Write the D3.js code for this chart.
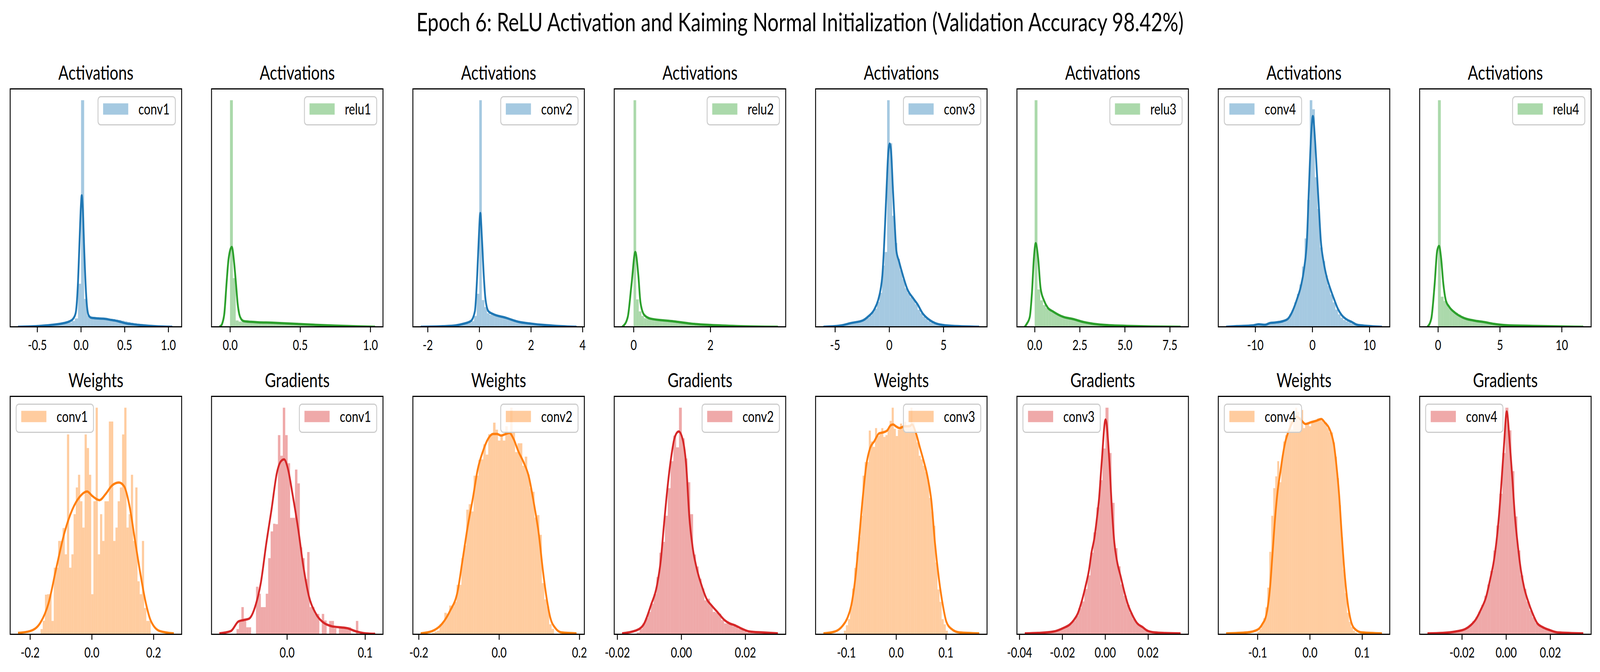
<!DOCTYPE html>
<html>
<head>
<meta charset="utf-8">
<script src="https://cdn.jsdelivr.net/npm/d3@7"></script>
<style>
  html, body { margin: 0; padding: 0; background: #fff; overflow: hidden; }
  svg { display: block; }
  text { font-family: Lato, "Open Sans", sans-serif; fill: #000; }
</style>
</head>
<body>
<script>
// ---- data (heights relative to tallest bar = 100) ----

var figTitle = "Epoch 6: ReLU Activation and Kaiming Normal Initialization (Validation Accuracy 98.42%)";

var panelTitles = ["Activations", "Activations", "Activations", "Activations",
                   "Activations", "Activations", "Activations", "Activations",
                   "Weights", "Gradients", "Weights", "Gradients",
                   "Weights", "Gradients", "Weights", "Gradients"];
var panelLabels = ["conv1", "relu1", "conv2", "relu2", "conv3", "relu3", "conv4", "relu4",
                   "conv1", "conv1", "conv2", "conv2", "conv3", "conv3", "conv4", "conv4"];
var legendSides = ["right", "right", "right", "right", "right", "right", "left", "right",
                   "left", "right", "right", "right", "right", "left", "left", "left"];

var binStarts = [-0.706, 0, -1.8, 0, -5.36, 0, -13.05, 0,
                 -0.1659, -0.0646, -0.1665, -0.0139, -0.105, -0.0365, -0.1003, -0.0343];
var binWidths = [0.0354, 0.0205, 0.1, 0.068, 0.235, 0.155, 0.45, 0.23,
                 0.00714, 0.00312, 0.00607, 0.00088, 0.00418, 0.00141, 0.00381, 0.00136];

var tickValues = [[-0.5, 0, 0.5, 1], [0, 0.5, 1], [-2, 0, 2, 4], [0, 2],
                  [-5, 0, 5], [0, 2.5, 5, 7.5], [-10, 0, 10], [0, 5, 10],
                  [-0.2, 0, 0.2], [0, 0.1], [-0.2, 0, 0.2], [-0.02, 0, 0.02],
                  [-0.1, 0, 0.1], [-0.04, -0.02, 0, 0.02], [-0.1, 0, 0.1], [-0.02, 0, 0.02]];
var tickDecimals = [1, 1, 0, 0, 0, 1, 0, 0, 1, 1, 1, 2, 1, 2, 1, 2];

var conv1ActHist = [0.1,0.1,0.1,0.2,0.2,0.2,0.3,0.3,0.4,0.5,0.6,0.7,0.9,1.1,1.3,1.6,2.0,2.6,3.7,19,
  100,12.3,4.9,4.2,4.0,3.9,3.8,3.7,3.6,3.5,3.4,3.2,3.0,2.7,2.4,2.1,1.8,1.6,1.4,1.2,1.0,0.9,0.8,0.7,0.6,0.5,0.4,0.3,0.3,0.2];
var conv1ActKde = [[-0.72,0],[-0.6,0.15],[-0.5,0.3],[-0.4,0.6],[-0.3,1.0],[-0.2,1.6],[-0.13,2.4],[-0.09,3.5],
  [-0.06,6],[-0.035,18],[-0.015,38],[0,53],[0.01,58],[0.022,52],[0.04,32],[0.055,18],[0.07,9],[0.09,5],
  [0.12,4],[0.2,3.7],[0.28,3.5],[0.35,3.0],[0.4,2.7],[0.45,2.2],[0.52,1.5],[0.6,1.1],[0.7,0.7],[0.85,0.25],[1.047,0]];

var relu1ActHist = [100,21.5,2.8,2.3,2.2,2.1,2.1,2.0,2.0,2.0,2.0,1.9,1.9,1.9,1.8,1.8,1.8,1.7,1.7,
  1.6,1.6,1.5,1.4,1.3,1.2,1.1,1.0,0.95,0.9,0.85,0.8,0.75,0.7,0.65,0.6,0.55,0.5,0.45,0.4,0.35,0.32,0.3,0.27,
  0.25,0.22,0.2,0.17,0.15,0.12,0.1];
var relu1ActKde = [[-0.076,0],[-0.06,0.8],[-0.053,1.9],[-0.04,6],[-0.024,19.6],[-0.01,30],[0.013,35.2],
  [0.03,28],[0.042,19.6],[0.055,10],[0.066,5.6],[0.08,3.4],[0.099,2.5],[0.15,2.2],[0.2,2.0],[0.3,1.8],
  [0.4,1.5],[0.5,1.2],[0.6,0.9],[0.75,0.5],[0.9,0.2],[1.035,0]];

var conv2ActHist = [0.2,0.2,0.2,0.3,0.3,0.3,0.4,0.4,0.5,0.6,0.7,0.9,1.1,1.4,1.8,2.5,4.8,14.6,
  100,11.8,8.7,6.0,5.3,5.1,4.9,4.7,4.5,4.3,4.0,3.8,3.5,3.2,2.9,2.6,2.3,2.1,1.9,1.7,1.5,1.3,1.1,1.0,
  0.9,0.8,0.7,0.6,0.5,0.4,0.3,0.3];
var conv2ActKde = [[-2.27,0],[-1.41,0.25],[-0.92,0.6],[-0.63,1.3],[-0.33,2.5],[-0.17,6.8],[-0.08,22.6],
  [-0.02,38.4],[0.04,50.2],[0.106,38.4],[0.175,22.6],[0.24,12.3],[0.36,6.8],[0.54,5.6],[1.03,4.0],
  [1.52,2.2],[2.01,1.4],[2.5,0.8],[2.99,0.4],[3.77,0]];

var relu2ActHist = [100,12.1,6.8,4.8,3.8,3.5,3.4,3.3,3.2,3.1,3.0,2.9,2.8,2.7,2.6,2.5,2.4,2.3,2.2,2.1,
  2.0,1.9,1.7,1.6,1.5,1.4,1.3,1.2,1.1,0.95,0.85,0.75,0.7,0.6,0.55,0.5,0.45,0.4,0.35,0.3,
  0.28,0.25,0.22,0.2,0.18,0.15,0.12,0.1,0.08,0.06];
var relu2ActKde = [[-0.3,0],[-0.26,0.5],[-0.15,4.4],[-0.053,18.7],[0.046,33],[0.125,22.6],[0.18,10.8],
  [0.28,5.2],[0.44,3.6],[1.0,2.5],[1.5,1.4],[2.0,0.8],[2.7,0.3],[3.76,0]];

var conv3ActHist = [0.2,0.3,0.4,0.5,0.7,0.9,1.1,1.4,1.7,2.0,2.2,2.5,2.9,3.3,4.0,5.0,6.5,8.0,11,15,27,33,
  100,81,49,37,30,25,21,17,15,13,12,10,7.5,6,4.5,3.5,2.5,1.8,1.3,1.0,0.7,0.5,0.4,0.3,0.3,0.2,0.2,0.2];
var conv3ActKde = [[-6.07,0],[-4.55,0.5],[-3.49,1.7],[-2.44,2.8],[-1.97,4.4],[-1.38,7.6],[-1.03,11.6],
  [-0.8,16.3],[-0.63,22.6],[-0.49,33.7],[-0.37,46.4],[-0.23,62.2],[-0.09,76.4],[0.05,80.8],[0.19,76.4],
  [0.33,62.2],[0.5,46.4],[0.66,33.7],[0.9,29],[1.27,22.6],[1.67,16.7],[2.26,12.3],[2.61,10],[3.08,6],
  [3.67,3.2],[4.37,1.4],[5.54,0.5],[8.31,0]];

var relu3ActHist = [100,16.5,11.7,9.6,8.3,7.5,6.6,6.0,5.4,5.0,4.5,4.1,3.8,3.5,3.3,3.0,2.6,2.3,2.0,1.8,
  1.5,1.3,1.1,1.0,0.9,0.8,0.7,0.6,0.55,0.5,0.45,0.4,0.35,0.3,0.28,0.25,0.22,0.2,0.18,0.16,
  0.15,0.14,0.13,0.12,0.11,0.1,0.09,0.08,0.07,0.06];
var relu3ActKde = [[-0.55,0],[-0.44,1.3],[-0.27,4.4],[-0.15,15],[-0.04,30.5],[0.058,36.9],[0.19,30.5],
  [0.33,17],[0.52,11.6],[0.73,8.4],[1.01,6.8],[1.58,4.4],[2.14,3.4],[2.71,2.1],[3.28,1.3],[4.13,0.7],
  [5.12,0.4],[6.5,0.15],[8.1,0]];

var conv4ActHist = [0.2,0.2,0.2,0.3,0.3,0.5,0.7,1.0,1.0,0.7,0.8,1.2,1.6,1.8,1.9,2.1,2.3,2.6,3.0,3.6,
  5.5,7.5,10.8,14.5,18.7,26.6,39,56,100,96,66,52,35,29,22.6,18,14.3,10.8,7.6,5.5,
  4.0,3.0,2.4,2.0,1.5,1.0,0.7,0.5,0.4,0.3];
var conv4ActKde = [[-15.1,0],[-13.2,0.3],[-10.5,0.6],[-9.4,1.1],[-8.28,0.9],[-7.38,1.7],[-6.49,1.9],
  [-5.14,2.5],[-4.25,3.6],[-3.35,7.6],[-2.67,12.3],[-2.0,17.9],[-1.43,25.8],[-0.94,38.4],[-0.58,62],
  [-0.23,83.5],[0.1,93],[0.45,83.5],[0.76,70],[1.12,54],[1.48,38.4],[2.01,28.2],[2.46,22.6],[3.13,17],
  [3.8,12.3],[4.47,8],[5.14,5.2],[6.04,3.2],[6.93,2.1],[7.83,0.9],[9.62,0.4],[12.2,0]];

var relu4ActHist = [100,13.3,11.4,9.8,8,7,6.2,5.4,4.6,4.0,3.5,3.1,2.8,2.5,2.3,2.1,1.9,1.6,1.4,1.2,
  1.0,0.9,0.8,0.7,0.65,0.6,0.55,0.5,0.45,0.4,0.38,0.35,0.32,0.3,0.28,0.25,0.22,0.2,0.18,0.16,
  0.15,0.14,0.13,0.12,0.11,0.1,0.09,0.08,0.07,0.06];
var relu4ActKde = [[-0.85,0],[-0.54,3.6],[-0.27,18.7],[-0.06,33.7],[0.09,35.7],[0.25,30.5],[0.44,18.7],
  [0.64,11.6],[0.91,8.8],[1.43,6],[2.05,4.0],[2.87,2.8],[3.7,2.1],[4.52,1.3],[5.56,0.7],[7.62,0.4],[11.75,0]];

var conv1WeightHist = [2.3,6,17.5,17.7,17.7,5.9,29.4,29.4,41.2,41.2,46.9,35.3,88.2,29.4,35.3,53,64.8,70.4,
  58.7,47.1,88.2,82.2,70.4,17.7,58.7,100,35.3,53,41.2,58.7,58.7,93.9,93.9,41.2,47.1,58.7,64.8,88.2,
  100,47.1,53,70.4,41.2,64.8,23.4,17.7,41.2,11.6,5.9,5.9];
var conv1WeightKde = [[-0.239,0.6],[-0.2,1.4],[-0.166,5.2],[-0.14,13.7],[-0.114,29.8],[-0.088,45],
  [-0.063,55],[-0.037,61],[-0.015,63],[0.002,61],[0.025,59.2],[0.045,61.9],[0.066,65.7],[0.088,67],
  [0.105,65.3],[0.122,56.9],[0.14,41.6],[0.157,27.2],[0.174,14.6],[0.191,6.1],[0.221,1.4],[0.266,0.4]];

var conv1GradHist = [2.3,5.9,12,5.9,3.1,3.1,0,0,21,17.9,12,12,17.9,33.6,45.4,48.8,48.6,87.9,78.8,100,
  87.9,75.5,51.4,51.4,72.7,66.6,38.4,33.6,24.4,36.3,12,12,9,9,0,9,6.1,0,5.9,5.9,
  2.7,0,3.1,3.1,3.1,3.1,3.1,0,0,5.9];
var conv1GradKde = [[-0.0866,0.4],[-0.072,1.4],[-0.062,5.7],[-0.0553,6.3],[-0.0485,6.9],[-0.0401,12.9],
  [-0.0333,23],[-0.0265,40],[-0.0197,55.2],[-0.0129,71.2],[-0.0078,76.3],[-0.0037,77.2],[0.0007,73.8],
  [0.0075,61.1],[0.0143,46.7],[0.0211,29.8],[0.0279,17.1],[0.0364,9.5],[0.0466,5.2],[0.0568,3.6],
  [0.067,3.1],[0.0772,2.7],[0.0874,1.4],[0.101,0.4],[0.113,0.2]];

var conv2WeightHist = [0.6,1.2,1.6,4.4,5.5,9.5,9.1,12.7,12.3,14.3,21.8,21.8,33.6,39.2,55,57.4,54.2,70,70,77,
  77.2,83.9,79.3,88.3,88.3,93.4,90.3,85.5,87.9,85.5,91.8,89.1,100,89,80.4,84.3,84.3,74.4,78.4,70.5,
  64.5,62.9,51.5,52.6,43.9,22.6,15.4,12.3,4.4,2.4];
var conv2WeightKde = [[-0.195,0.4],[-0.1665,1.4],[-0.141,4.8],[-0.122,10.3],[-0.103,19],[-0.091,32.5],
  [-0.078,47.5],[-0.065,60.2],[-0.053,72.8],[-0.04,80.8],[-0.027,86.3],[-0.015,88.4],[-0.005,88.4],
  [0.005,87.7],[0.017,88.4],[0.026,88.9],[0.036,86.3],[0.048,80.8],[0.061,76],[0.074,69.7],[0.086,58.6],
  [0.099,44.3],[0.109,28.5],[0.118,16.6],[0.128,7.1],[0.14,2.8],[0.156,0.8],[0.193,0.4]];

var conv2GradHist = [0.8,2.4,4.8,7.1,9.9,13.5,17.8,25.3,36,40.8,52.3,64.5,76.4,87.7,82.5,100,86.5,77.6,67.1,53,
  35.2,29.9,24.5,20.2,15,15.7,12.7,9.9,9.5,9.1,6.3,4.8,5.1,4.8,3.6,3.2,2.4,2,1.3,
  0.8,0.6,0.55,0.5,0.4,0.4,0.3,0.3,0.25,0.25,0.25];
var conv2GradKde = [[-0.0185,0.4],[-0.0143,1.6],[-0.0119,4],[-0.0095,12.7],[-0.0075,22.2],[-0.0064,32.5],
  [-0.0054,48.3],[-0.0044,63.3],[-0.0032,77.6],[-0.002,87.1],[-0.0008,89.5],[0.0004,86.3],[0.0016,73.6],
  [0.0025,52.3],[0.0036,38],[0.0048,29.3],[0.0064,21.4],[0.008,15.4],[0.0095,12.7],[0.0115,9.5],
  [0.0135,6.3],[0.0151,4.8],[0.0167,4],[0.019,2.4],[0.0214,1.2],[0.0254,0.8],[0.0302,0.4]];

var conv3WeightHist = [1.6,4,6.7,11.9,20.2,29.3,36.4,42.8,52.3,70,76,76,89.9,85.1,82.7,91,87.5,88.3,91,87.1,
  87.9,90.7,94.2,100,90.7,87.5,90.3,93,91.8,93.8,91.4,92.6,100,93.4,89.5,84.7,78.8,77.2,74.4,71.7,
  68.1,60.2,54.2,47.9,31.7,19.8,14.3,6.7,4.4,1.6];
var conv3WeightKde = [[-0.146,0.4],[-0.123,1.2],[-0.108,3.6],[-0.098,7.1],[-0.09,12.7],[-0.082,24.5],
  [-0.075,40.4],[-0.067,60.2],[-0.06,74.4],[-0.052,82.3],[-0.044,85.1],[-0.034,88.7],[-0.026,89.1],
  [-0.018,89.9],[-0.011,92.2],[-0.006,92.6],[-0.0005,91.8],[0.007,91],[0.017,91.8],[0.027,91.8],
  [0.032,92.6],[0.04,88.7],[0.048,82.3],[0.055,76.8],[0.063,69.7],[0.071,58.6],[0.078,40.4],[0.086,24.5],
  [0.094,12.7],[0.101,5.5],[0.111,2.4],[0.127,0.8],[0.167,0.4]];

var conv3GradHist = [0.4,0.4,0.5,0.5,0.6,0.7,0.8,1.0,1.2,1.6,2.0,2.6,3.2,3.8,4.6,6.0,8.2,11.5,14.5,20,
  26,36,45,56,68,82,100,80,58,38,30,22,17,13,9.5,6.8,5,4,3,2.2,
  1.5,1.1,0.8,0.6,0.5,0.5,0.4,0.3,0.3,0.3];
var conv3GradKde = [[-0.0375,0.4],[-0.0313,0.6],[-0.0241,1.2],[-0.0194,2.8],[-0.0164,4.4],[-0.0146,6.3],
  [-0.0128,9.1],[-0.011,14.3],[-0.0093,20.6],[-0.0075,28.5],[-0.0063,36.4],[-0.0051,42],[-0.0039,50.7],
  [-0.0028,60.2],[-0.0016,76],[0.0002,94.8],[0.002,76],[0.0031,56.2],[0.0043,40.4],[0.0055,32.5],
  [0.0073,25.3],[0.0091,18.2],[0.0108,12.7],[0.0126,8.7],[0.015,4.8],[0.0174,3.2],[0.0197,1.6],
  [0.0233,0.8],[0.028,0.55],[0.0352,0.4]];

var conv4WeightHist = [1.2,2.4,4.8,7.1,11.9,20.6,36.4,52.3,64.5,69.7,76.4,67.1,77.2,85.1,87.9,89.9,95.8,90.3,98.2,100,
  98.2,95.8,99,91,92.2,92.6,91.8,93.4,93.8,94.2,95.2,95,94.2,93.4,93.4,91,89.1,89.1,84.7,78.4,
  68.9,57,42.8,28.5,18.2,9.5,5.5,3.2,1.6,0.8];
var conv4WeightKde = [[-0.16,0.4],[-0.12,0.8],[-0.1,2],[-0.091,4.4],[-0.083,8.7],[-0.076,20.6],[-0.071,36.4],
  [-0.066,52.3],[-0.061,64.1],[-0.056,72],[-0.052,78.4],[-0.047,84.7],[-0.042,88.7],[-0.036,92.2],
  [-0.03,95],[-0.025,96],[-0.017,94.6],[-0.008,92.8],[0.0025,93.6],[0.012,94.2],[0.022,95],[0.029,93.4],
  [0.037,91],[0.042,87.9],[0.046,83.9],[0.051,74.4],[0.056,61.8],[0.061,44.3],[0.066,28.5],[0.071,16.6],
  [0.076,8.7],[0.08,4.8],[0.088,2],[0.1,0.8],[0.138,0.4]];

var conv4GradHist = [0.4,0.4,0.5,0.5,0.6,0.7,0.8,1.0,1.2,1.5,1.8,2.3,3.0,4.2,5.8,7.5,10,13,17,22,
  28,37,48,62,80,100,90,72,52,37,26,20,14.5,10.5,7.5,5,3.8,3,2.3,1.8,
  1.2,0.9,0.7,0.6,0.5,0.4,0.4,0.3,0.3,0.3];
var conv4GradKde = [[-0.0356,0.4],[-0.0287,0.6],[-0.0229,1.2],[-0.0183,2.4],[-0.016,4],[-0.0136,6.7],
  [-0.0113,11.1],[-0.009,16.6],[-0.0073,23.8],[-0.0055,32.5],[-0.0044,40.4],[-0.0032,52.3],[-0.002,68.1],
  [-0.0009,83.9],[0.0003,98.3],[0.0017,83.9],[0.0029,68.1],[0.004,52.3],[0.0052,40.4],[0.0067,28.5],
  [0.0082,20.6],[0.0101,14.3],[0.0119,9.5],[0.0142,4.8],[0.0165,3.2],[0.0194,2],[0.0234,0.8],[0.035,0.4]];

var histograms = [conv1ActHist, relu1ActHist, conv2ActHist, relu2ActHist,
                  conv3ActHist, relu3ActHist, conv4ActHist, relu4ActHist,
                  conv1WeightHist, conv1GradHist, conv2WeightHist, conv2GradHist,
                  conv3WeightHist, conv3GradHist, conv4WeightHist, conv4GradHist];
var kdes = [conv1ActKde, relu1ActKde, conv2ActKde, relu2ActKde,
            conv3ActKde, relu3ActKde, conv4ActKde, relu4ActKde,
            conv1WeightKde, conv1GradKde, conv2WeightKde, conv2GradKde,
            conv3WeightKde, conv3GradKde, conv4WeightKde, conv4GradKde];

// ---- layout (figure pixels; the viewBox maps the figure onto the whole window) ----
var width = 5347, height = 1720;
var colLeft = 34, colStep = 672.9, axW = 573, axH = 609;
var rowTop = [227.5, 1014.5];
var blue = "#1f77b4", green = "#2ca02c", orange = "#ff7f0e", red = "#d62728";

var svg = d3.select("body").append("svg")
    .attr("viewBox", "0 0 " + width + " " + height)
    .attr("preserveAspectRatio", "none")
    .style("width", "100vw")
    .style("height", "100vh");

svg.append("text")
    .attr("x", width / 2)
    .attr("y", 80)
    .attr("text-anchor", "middle")
    .style("font-size", "66px")
    .text(figTitle);

var defs = svg.append("defs");
defs.append("clipPath").attr("id", "axclip")
  .append("rect").attr("width", axW).attr("height", axH);

histograms.forEach(function (hist, i) {
    var row = i < 8 ? 0 : 1,
        col = i % 8;
    var color = row === 0 ? (col % 2 === 0 ? blue : green) : (col % 2 === 0 ? orange : red);
    var start = binStarts[i], w = binWidths[i], kde = kdes[i];

    // matplotlib-like autoscale: data extent plus 5% margin
    var lo = Math.min(start, d3.min(kde, function (d) { return d[0]; })),
        hi = Math.max(start + hist.length * w, d3.max(kde, function (d) { return d[0]; }));
    var pad = (hi - lo) * 0.05;
    var x = d3.scaleLinear().domain([lo - pad, hi + pad]).range([0, axW]);
    var ymax = Math.max(d3.max(hist), d3.max(kde, function (d) { return d[1]; }));
    var y = d3.scaleLinear().domain([0, ymax * 1.05]).range([axH, 0]);

    var g = svg.append("g")
        .attr("transform", "translate(" + (colLeft + col * colStep) + "," + rowTop[row] + ")");

    var plot = g.append("g").attr("clip-path", "url(#axclip)");

    plot.selectAll("rect.bar")
      .data(hist)
      .join("rect")
        .attr("class", "bar")
        .attr("x", function (d, k) { return x(start + k * w); })
        .attr("width", function (d, k) { return x(start + (k + 1) * w) - x(start + k * w); })
        .attr("y", function (d) { return y(d); })
        .attr("height", function (d) { return axH - y(d); })
        .attr("fill", color)
        .attr("fill-opacity", 0.4);

    var line = d3.line()
        .x(function (d) { return x(d[0]); })
        .y(function (d) { return y(d[1]); })
        .curve(d3.curveMonotoneX);

    plot.append("path")
        .datum(kde)
        .attr("d", line)
        .attr("fill", "none")
        .attr("stroke", color)
        .attr("stroke-width", 6)
        .attr("stroke-linejoin", "round");

    // axis
    var fmt = d3.format("." + tickDecimals[i] + "f");
    var ax = g.append("g")
        .attr("transform", "translate(0," + axH + ")")
        .call(d3.axisBottom(x)
            .tickValues(tickValues[i])
            .tickFormat(function (d) { return fmt(d).replace("\u2212", "-"); })
            .tickSize(14)
            .tickPadding(20));
    ax.select(".domain").remove();
    ax.selectAll(".tick line").attr("stroke", "#000").attr("stroke-width", 3);
    ax.selectAll(".tick text")
        .attr("fill", "#000")
        .style("font-size", "36px")
        .style("font-family", "Lato, sans-serif");

    // frame
    g.append("rect")
        .attr("width", axW)
        .attr("height", axH)
        .attr("fill", "none")
        .attr("stroke", "#000")
        .attr("stroke-width", 3);

    g.append("text")
        .attr("x", axW / 2)
        .attr("y", -24)
        .attr("text-anchor", "middle")
        .style("font-size", "51px")
        .text(panelTitles[i]);

    // legend
    var lg = g.append("g");
    var box = lg.append("rect");
    var patch = lg.append("rect");
    var label = lg.append("text")
        .style("font-size", "39px")
        .text(panelLabels[i]);
    var tw = label.node().getComputedTextLength();
    var bw = 17 + 84 + 34 + tw + 19, bh = 72;
    var bx = legendSides[i] === "right" ? axW - 21 - bw : 20, by = 20;
    box.attr("x", bx).attr("y", by)
        .attr("width", bw).attr("height", bh)
        .attr("rx", 9)
        .attr("fill", "#fff").attr("fill-opacity", 0.8)
        .attr("stroke", "#cccccc").attr("stroke-width", 3);
    patch.attr("x", bx + 17).attr("y", by + 17)
        .attr("width", 84).attr("height", 29)
        .attr("fill", color).attr("fill-opacity", 0.4);
    label.attr("x", bx + 17 + 84 + 34).attr("y", by + 46);
});
</script>
</body>
</html>
